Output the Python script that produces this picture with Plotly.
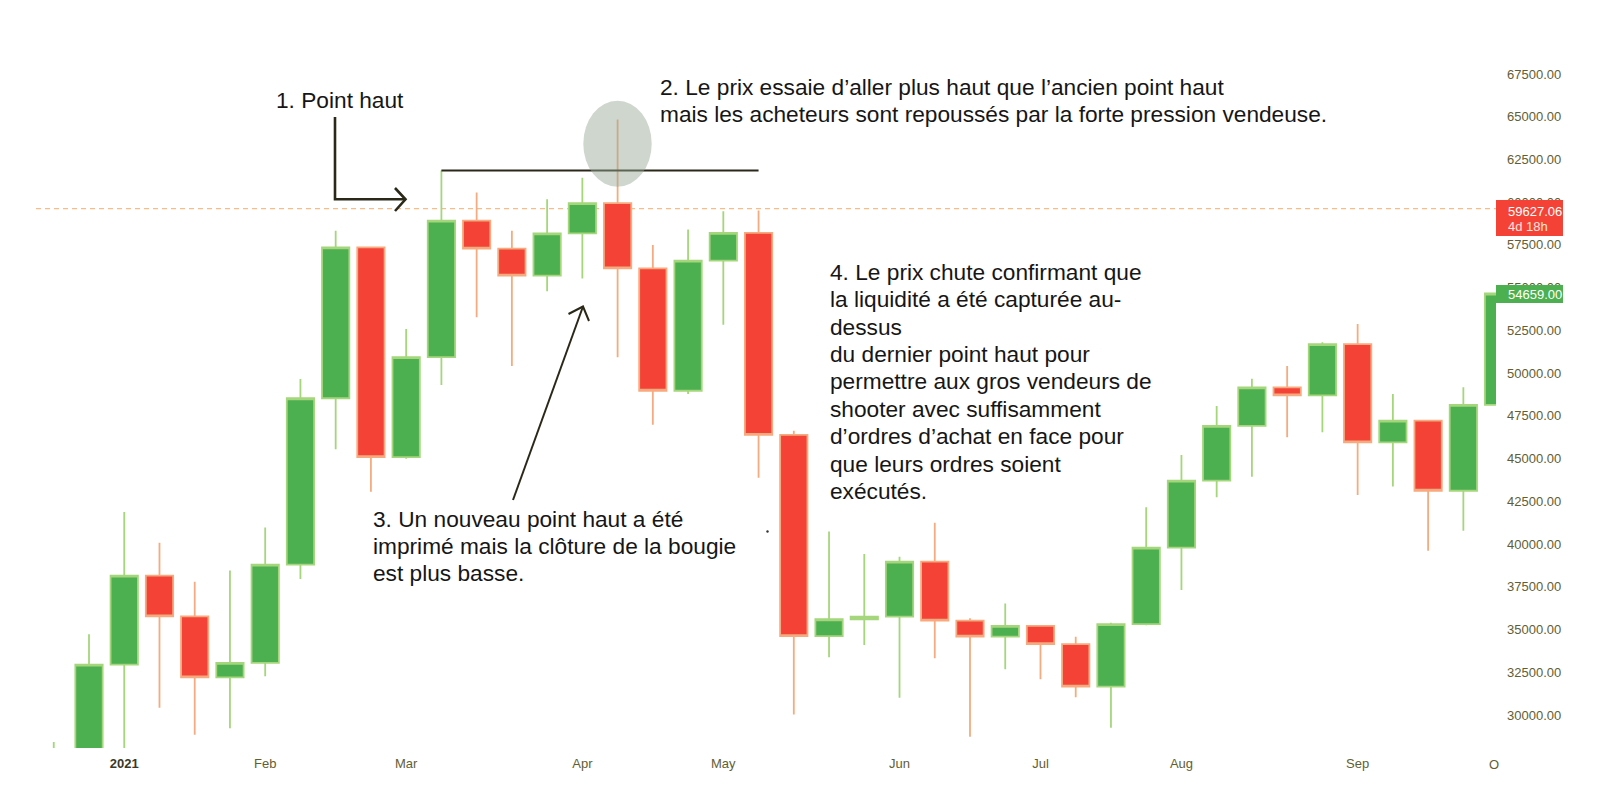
import plotly.graph_objects as go
import pandas as pd

# ---------------- data (weekly BTC candles) ----------------
weeks = ["2020-12-21", "2020-12-28", "2021-01-04", "2021-01-11", "2021-01-18", "2021-01-25",
         "2021-02-01", "2021-02-08", "2021-02-15", "2021-02-22", "2021-03-01", "2021-03-08",
         "2021-03-15", "2021-03-22", "2021-03-29", "2021-04-05", "2021-04-12", "2021-04-19",
         "2021-04-26", "2021-05-03", "2021-05-10", "2021-05-17", "2021-05-24", "2021-05-31",
         "2021-06-07", "2021-06-14", "2021-06-21", "2021-06-28", "2021-07-05", "2021-07-12",
         "2021-07-19", "2021-07-26", "2021-08-02", "2021-08-09", "2021-08-16", "2021-08-23",
         "2021-08-30", "2021-09-06", "2021-09-13", "2021-09-20", "2021-09-27", "2021-10-04"]
open_ = [23480, 26280, 32950, 38150, 35770, 32200, 33050, 38800, 48530, 57360, 45080, 50930,
         58920, 57280, 55700, 58180, 59950, 56130, 48970, 56580, 58200, 46390, 34620, 35600,
         35750, 38970, 35520, 34580, 35210, 34150, 31660, 35320, 39790, 43710, 46910, 49170,
         48700, 51700, 45950, 47220, 43120, 48140]
high = [28420, 34720, 41870, 40070, 37800, 38460, 40970, 49660, 58330, 57400, 52580, 61860,
        60560, 58330, 60170, 61430, 64840, 57490, 58400, 59470, 59520, 46630, 40730, 39420,
        39260, 41250, 35660, 36530, 35270, 34580, 35400, 42150, 45210, 48080, 49670, 50420,
        51800, 52870, 48780, 47260, 49170, 54659]
low = [21900, 25900, 27740, 30420, 28850, 29230, 32260, 37960, 45540, 43060, 44990, 49300,
       53270, 50420, 54790, 55530, 50930, 46980, 48780, 52830, 43880, 30030, 33380, 34100,
       31010, 33320, 28730, 32670, 32090, 31040, 29260, 35250, 37310, 42740, 43940, 46250,
       46540, 42870, 43360, 39610, 40780, 47900]
close = [26280, 32950, 38150, 35770, 32200, 33050, 38800, 48530, 57360, 45080, 50930, 58920,
         57280, 55700, 58180, 59950, 56130, 48970, 56580, 58200, 46390, 34620, 35600, 35750,
         38970, 35520, 34580, 35210, 34150, 31660, 35320, 39790, 43710, 46910, 49170, 48700,
         51700, 45950, 47220, 43120, 48140, 54659]

last_price = 54659.00
marked_price = 59627.06
countdown = "4d 18h"

price_ticks = [30000, 32500, 35000, 37500, 40000, 42500, 45000, 47500, 50000,
               52500, 55000, 57500, 60000, 62500, 65000, 67500]
month_ticks = ["2021-01-04", "2021-02-01", "2021-03-01", "2021-04-05", "2021-05-03",
               "2021-06-07", "2021-07-05", "2021-08-02", "2021-09-06"]
month_labels = ["<b>2021</b>", "Feb", "Mar", "Apr", "May", "Jun", "Jul", "Aug", "Sep"]

txt1 = ["1. Point haut"]
txt2 = ["2. Le prix essaie d’aller plus haut que l’ancien point haut",
        "mais les acheteurs sont repoussés par la forte pression vendeuse."]
txt3 = ["3. Un nouveau point haut a été",
        "imprimé mais la clôture de la bougie",
        "est plus basse."]
txt4 = ["4. Le prix chute confirmant que",
        "la liquidité a été capturée au-",
        "dessus",
        "du dernier point haut pour",
        "permettre aux gros vendeurs de",
        "shooter avec suffisamment",
        "d’ordres d’achat en face pour",
        "que leurs ordres soient",
        "exécutés."]

# ---------------- geometry / style ----------------
OFF = 8                                      # default page margin around the figure
W, H = 1608 - 2 * OFF, 808 - 2 * OFF
PL, PR, PT, PB = 36, 1496, 56, 748           # plot area edges in page px
PX_PER_DAY = 35.24 / 7.0
ANCHOR_PX = 89                               # page px of the 2nd candle's centre
PRICE_PX0, PRICE0, PRICE_PER_PX = 715, 30000, 58.5

anchor = pd.Timestamp(weeks[1])
x_lo = anchor - pd.Timedelta(days=(ANCHOR_PX - PL) / PX_PER_DAY)
x_hi = anchor + pd.Timedelta(days=(PR - ANCHOR_PX) / PX_PER_DAY)
y_lo = PRICE0 + (PRICE_PX0 - PB) * PRICE_PER_PX
y_hi = PRICE0 + (PRICE_PX0 - PT) * PRICE_PER_PX


def px(xp):
    return (xp - PL) / (PR - PL)


def py(yp):
    return (PB - yp) / (PB - PT)


GREEN = "#4caf50"
GREEN_LINE = "#a5d67c"
RED = "#f44336"
RED_LINE = "#f5ab7f"
INK = "#161616"
DARK = "#2a2818"
AXIS_C = "#625e32"
TFONT = "Liberation Sans, Arial, Helvetica, sans-serif"

fig = go.Figure()
fig.add_trace(go.Candlestick(
    x=weeks, open=open_, high=high, low=low, close=close,
    increasing=dict(line=dict(color=GREEN_LINE, width=1.8), fillcolor=GREEN),
    decreasing=dict(line=dict(color=RED_LINE, width=1.8), fillcolor=RED),
    whiskerwidth=0, showlegend=False, hoverinfo="skip"))

shapes = []
# dashed line of the marked price
shapes.append(dict(type="line", xref="paper", yref="y", x0=0, x1=1, y0=marked_price, y1=marked_price,
                   line=dict(color="#f6bd86", width=1.2, dash="5px,4px"), layer="below"))
# previous high line (from the March 8 high)
i_high = weeks.index("2021-03-08")
shapes.append(dict(type="line", xref="x", yref="y", x0=weeks[i_high], x1="2021-05-10",
                   y0=high[i_high], y1=high[i_high], line=dict(color=DARK, width=2)))
# grey bubble on the April high
shapes.append(dict(type="circle", xref="paper", yref="paper",
                   x0=px(583.3), x1=px(651.7), y0=py(186.7), y1=py(100.7),
                   fillcolor="rgba(150,168,150,0.47)", line=dict(width=0)))
# bent arrow for "1. Point haut"
shapes.append(dict(type="path", xref="paper", yref="paper",
                   path=f"M{px(335)},{py(117)} L{px(335)},{py(199.3)} L{px(405)},{py(199.3)}",
                   line=dict(color=DARK, width=2.6)))
shapes.append(dict(type="path", xref="paper", yref="paper",
                   path=f"M{px(395)},{py(188)} L{px(405.5)},{py(199.3)} L{px(395)},{py(211)}",
                   line=dict(color=DARK, width=2.6)))
# arrow for note 3
shapes.append(dict(type="path", xref="paper", yref="paper",
                   path=f"M{px(513)},{py(500)} L{px(583)},{py(306.5)}",
                   line=dict(color=DARK, width=2)))
shapes.append(dict(type="path", xref="paper", yref="paper",
                   path=f"M{px(568.5)},{py(314)} L{px(583)},{py(306.5)} L{px(589)},{py(321)}",
                   line=dict(color=DARK, width=2)))
# tiny dot
shapes.append(dict(type="circle", xref="paper", yref="paper",
                   x0=px(766.3), x1=px(768.7), y0=py(532.7), y1=py(530.3),
                   fillcolor="#333", line=dict(width=0)))
# price labels on the scale
shapes.append(dict(type="rect", xref="paper", yref="paper", x0=px(1496), x1=px(1563),
                   y0=py(236), y1=py(200), fillcolor=RED, line=dict(width=0)))
shapes.append(dict(type="rect", xref="paper", yref="paper", x0=px(1496), x1=px(1563),
                   y0=py(303), y1=py(285), fillcolor=GREEN, line=dict(width=0)))

ann = []


def add_lines(lines, x0, y0, dy):
    for k, t in enumerate(lines):
        ann.append(dict(text=t, xref="paper", yref="paper", x=px(x0), y=py(y0 + k * dy),
                        xanchor="left", yanchor="middle", showarrow=False,
                        font=dict(family=TFONT, size=22.7, color=INK)))


add_lines(txt1, 274, 100, 0)
add_lines(txt2, 658, 86.7, 26.8)
add_lines(txt3, 371, 518.8, 27.2)
add_lines(txt4, 827.5, 271.8, 27.42)

ann.append(dict(text=f"{marked_price:.2f}", xref="paper", yref="paper", x=px(1506), y=py(211.5),
                xanchor="left", yanchor="middle", showarrow=False,
                font=dict(family=TFONT, size=13, color="white")))
ann.append(dict(text=countdown, xref="paper", yref="paper", x=px(1506), y=py(227),
                xanchor="left", yanchor="middle", showarrow=False,
                font=dict(family=TFONT, size=13, color="#ffe3de")))
ann.append(dict(text=f"{last_price:.2f}", xref="paper", yref="paper", x=px(1506), y=py(294),
                xanchor="left", yanchor="middle", showarrow=False,
                font=dict(family=TFONT, size=13, color="white")))
ann.append(dict(text="O", xref="paper", yref="paper", x=px(1494), y=py(764),
                xanchor="center", yanchor="middle", showarrow=False,
                font=dict(family=TFONT, size=13, color=AXIS_C)))

month_text = [m if i else '<span style="color:#3a3826">' + m + '</span>' for i, m in enumerate(month_labels)]

fig.update_layout(
    width=W, height=H,
    margin=dict(l=PL - OFF, r=W - (PR - OFF), t=PT - OFF, b=H - (PB - OFF)),
    paper_bgcolor="white", plot_bgcolor="white",
    boxgap=0.225, boxgroupgap=0,
    showlegend=False,
    shapes=shapes, annotations=ann,
    xaxis=dict(type="date", range=[x_lo.isoformat(), x_hi.isoformat()],
               tickvals=month_ticks, ticktext=month_text,
               showgrid=False, zeroline=False, showline=False, ticks="",
               ticklabelstandoff=6,
               tickfont=dict(family=TFONT, size=13, color=AXIS_C),
               rangeslider=dict(visible=False), fixedrange=True),
    yaxis=dict(side="right", range=[y_lo, y_hi], tickvals=price_ticks, tickformat=".2f",
               showgrid=False, zeroline=False, showline=False, ticks="",
               ticklabelstandoff=10,
               tickfont=dict(family=TFONT, size=13, color=AXIS_C), fixedrange=True),
)

fig.write_html("out.html")
